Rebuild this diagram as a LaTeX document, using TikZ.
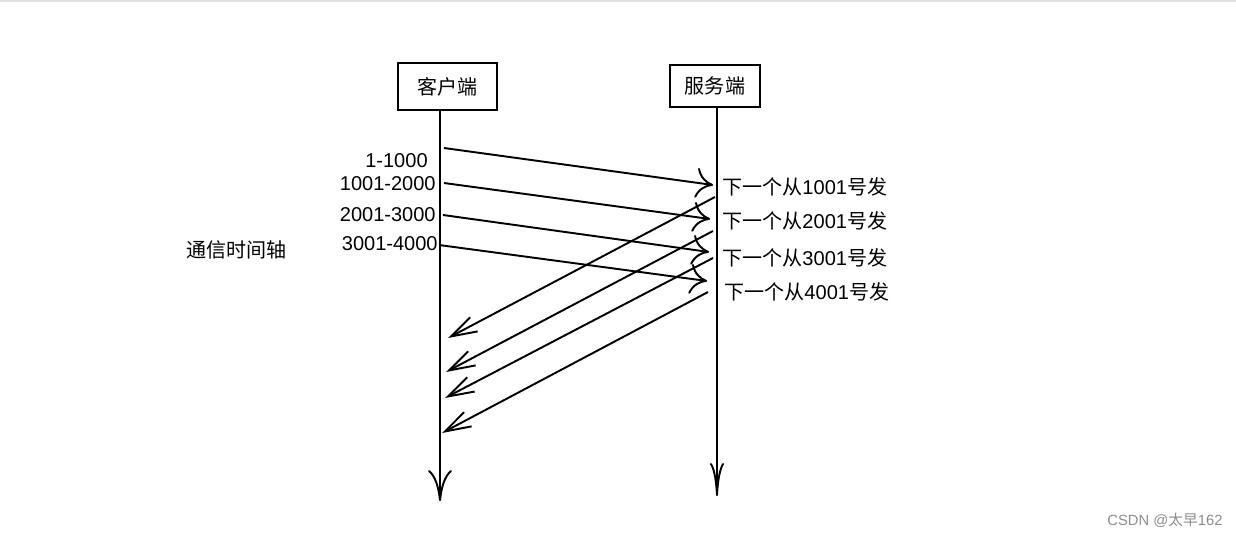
\documentclass[tikz,border=0pt]{standalone}
\usepackage{fontspec}
\setmainfont{Liberation Sans}
\newfontfamily\cjk{Noto Sans CJK SC}
\usetikzlibrary{arrows.meta}
\newcommand{\zh}[1]{{\cjk #1}}
\begin{document}
\begin{tikzpicture}[
      x=0.02cm, y=-0.02cm,
      font=\fontsize{11.4pt}{13pt}\selectfont,
      box/.style={
        draw, line width=1.1pt, minimum width=1.98cm, minimum height=0.94cm,
        inner sep=0pt
      },
      lbl/.style={inner sep=0pt},
      axis/.style={line width=1.1pt},
      send/.style={line width=1.1pt,
        -{Computer Modern Rightarrow[length=0.34cm, width=0.6cm]}},
      ack/.style={line width=1.1pt,
        -{Straight Barb[length=0.52cm, width=0.32cm]}}
    ]
    \useasboundingbox (0,0) rectangle (1236,537);
    \draw[black!12, line width=1pt] (0,1) -- (1236,1);

    \node[box] (client) at (447.5,86.5) {\zh{客户端}};
    \node[box, minimum width=1.8cm, minimum height=0.84cm] (server) at (715,86) {\zh{服务端}};

    \coordinate (cend) at (440,501);
    \coordinate (send) at (717,496);
    \draw[axis, -{Computer Modern Rightarrow[length=0.62cm, width=0.48cm]}]
      (client.south -| cend) -- (cend);
    \draw[axis, -{Computer Modern Rightarrow[length=0.66cm, width=0.28cm]}]
      (server.south -| send) -- (send);

    \node[lbl, anchor=west] (axisname) at (186,250) {\zh{通信时间轴}};

    \node[lbl, anchor=east] (seg1) at (428,161) {1-1000};
    \node[lbl, anchor=east] (seg2) at (436,184) {1001-2000};
    \node[lbl, anchor=east] (seg3) at (436,215) {2001-3000};
    \node[lbl, anchor=east] (seg4) at (438,244) {3001-4000};

    \node[lbl, anchor=west] (next1) at (722,187) {\zh{下一个从}1001\zh{号发}};
    \node[lbl, anchor=west] (next2) at (722,221) {\zh{下一个从}2001\zh{号发}};
    \node[lbl, anchor=west] (next3) at (722,258) {\zh{下一个从}3001\zh{号发}};
    \node[lbl, anchor=west] (next4) at (724,292) {\zh{下一个从}4001\zh{号发}};

    \coordinate (c1) at (444,148);
    \coordinate (c2) at (444,183);
    \coordinate (c3) at (443,215);
    \coordinate (c4) at (439,245);
    \coordinate (s1) at (713,185);
    \coordinate (s2) at (710,219);
    \coordinate (s3) at (709,252);
    \coordinate (s4) at (707,281);
    \draw[send] (c1) -- (s1);
    \draw[send] (c2) -- (s2);
    \draw[send] (c3) -- (s3);
    \draw[send] (c4) -- (s4);

    \coordinate (r1) at (715,197);
    \coordinate (r2) at (713,231);
    \coordinate (r3) at (713,258);
    \coordinate (r4) at (708,292);
    \coordinate (a1) at (448,338);
    \coordinate (a2) at (446,372);
    \coordinate (a3) at (445,398);
    \coordinate (a4) at (442,433);
    \draw[ack] (r1) -- (a1);
    \draw[ack] (r2) -- (a2);
    \draw[ack] (r3) -- (a3);
    \draw[ack] (r4) -- (a4);

    \node[lbl, text=black!45, font=\fontsize{8.4pt}{10pt}\selectfont] (mark)
      at (1165,520) {CSDN @\zh{太早}162};
  \end{tikzpicture}
\end{document}
